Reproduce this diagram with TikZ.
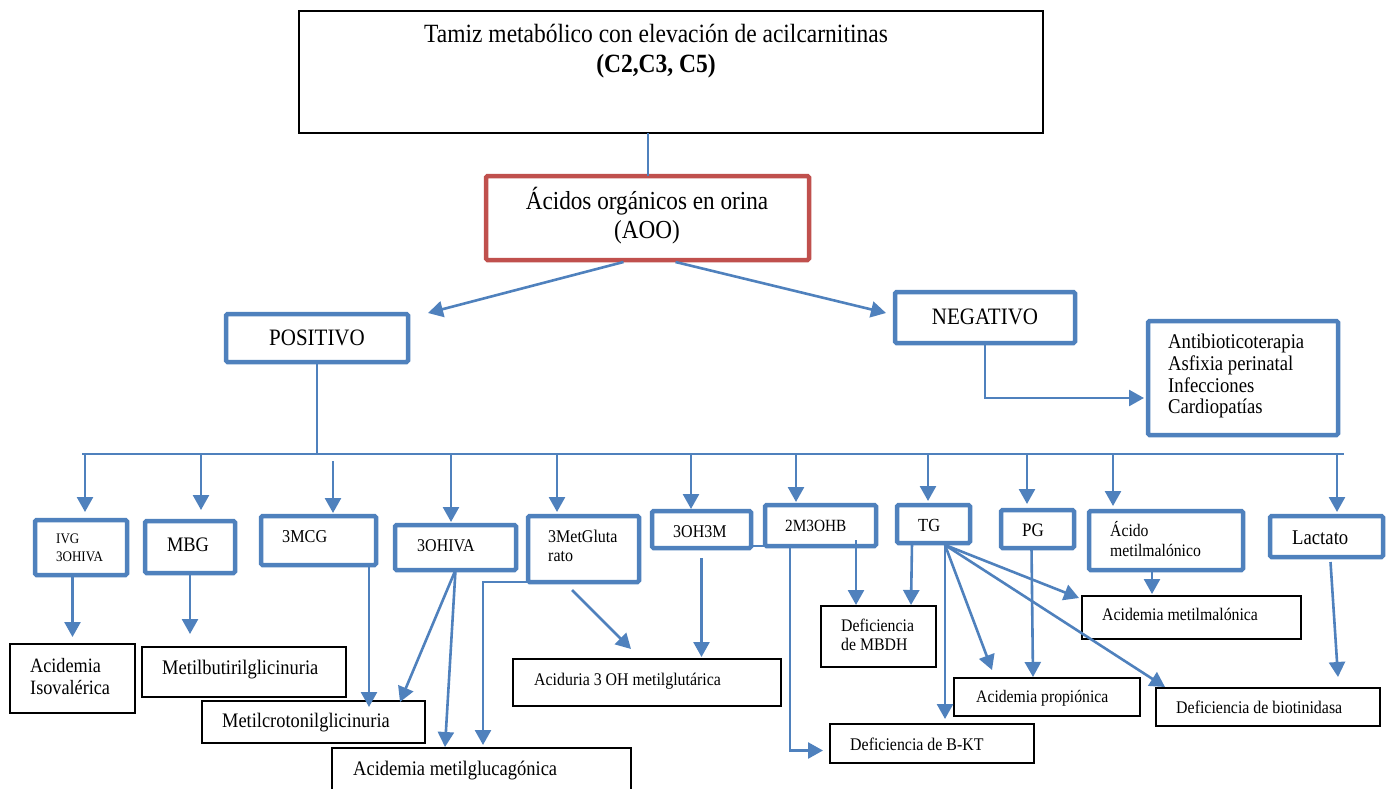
\documentclass[tikz,border=0pt]{standalone}
\usepackage{fontspec}
\setmainfont{Liberation Serif}
\usetikzlibrary{arrows.meta,calc}
\definecolor{bl}{HTML}{4F81BD}
\definecolor{rd}{HTML}{C0504D}
\newcommand\myfs[1]{\fontsize{#1}{#1}\selectfont}
\begin{document}
\begin{tikzpicture}[x=1pt,y=-1pt,
  bbox/.style={draw=bl, line width=4.5pt, rounded corners=1.5pt, fill=white, inner sep=0pt, outer sep=0pt, anchor=north west},
  kbox/.style={draw=black, line width=1.6pt, fill=white, inner sep=0pt, outer sep=0pt, anchor=north west},
  tx/.style={inner sep=0pt, anchor=base west, yscale=1.12},
  tc/.style={inner sep=0pt, anchor=base, yscale=1.12},
  arr/.style={draw=bl, line width=2.6pt, -{Triangle[length=15pt,width=16pt]}},
  ln/.style={draw=bl, line width=2pt},
]
\useasboundingbox (0,0) rectangle (1394,789);
\clip (0,0) rectangle (1394,789);
\fill[white] (0,0) rectangle (1394,789);

% ---- boxes ----
\node[kbox, line width=2pt, minimum width=744pt, minimum height=122pt] (top) at (299,11) {};
\node[bbox, draw=rd, minimum width=323pt, minimum height=84pt] (aoo) at (486,176) {};
\node[bbox, minimum width=182pt, minimum height=48pt] (pos) at (226,314) {};
\node[bbox, minimum width=180pt, minimum height=51pt] (neg) at (895,292) {};
\node[bbox, minimum width=190pt, minimum height=114pt] (anti) at (1148,321) {};
\node[bbox, minimum width=92pt, minimum height=55pt] (ivg) at (35,520) {};
\node[bbox, minimum width=90pt, minimum height=52pt] (mbg) at (145,521) {};
\node[bbox, minimum width=115pt, minimum height=49pt] (mcg) at (261,516) {};
\node[bbox, minimum width=121pt, minimum height=45pt] (ohiva) at (395,525) {};
\node[bbox, minimum width=111pt, minimum height=66pt] (mglut) at (528,516) {};
\node[bbox, minimum width=99pt, minimum height=37pt] (ohm) at (652,511) {};
\node[bbox, minimum width=111pt, minimum height=41pt] (mohb) at (765,505) {};
\node[bbox, minimum width=73pt, minimum height=38pt] (tg) at (897,505) {};
\node[bbox, minimum width=73pt, minimum height=38pt] (pg) at (1001,510) {};
\node[bbox, minimum width=154pt, minimum height=59pt] (acmm) at (1089,511) {};
\node[bbox, minimum width=113pt, minimum height=41pt] (lac) at (1270,516) {};

\node[kbox, minimum width=125pt, minimum height=69pt] (isov) at (10,644) {};
\node[kbox, minimum width=204pt, minimum height=50pt] (mbut) at (142,647) {};
\node[kbox, minimum width=223pt, minimum height=42pt] (mcrot) at (202,701) {};
\node[kbox, minimum width=299pt, minimum height=60pt] (mgluc) at (332,748) {};
\node[kbox, minimum width=268pt, minimum height=47pt] (acid) at (513,659) {};
\node[kbox, minimum width=115pt, minimum height=61pt] (mbdh) at (821,606) {};
\node[kbox, minimum width=204pt, minimum height=39pt] (bkt) at (830,724) {};
\node[kbox, minimum width=186pt, minimum height=38pt] (prop) at (954,678) {};
\node[kbox, minimum width=219pt, minimum height=43pt] (metmal) at (1082,596) {};
\node[kbox, minimum width=224pt, minimum height=38pt] (biot) at (1156,688) {};

% ---- connectors ----
\coordinate (busL) at (82,454);
\coordinate (busR) at (1344,454);
\draw[ln] (busL) -- (busR);
\draw[ln] (aoo.north |- top.south) -- (aoo.north);
\draw[ln] (pos.south) -- (pos.south |- busL);
\draw[arr] ($(aoo.south)+(-24,2)$) -- ($(pos.north east)+(20,-1)$);
\draw[arr] ($(aoo.south)+(28,2)$) -- ($(neg.north west)+(-9,21)$);
\draw[arr] (neg.south) |- ($(anti.west)+(-4,20)$);

\foreach \x/\b/\s in {85/ivg/8pt, 201/mbg/11pt, 451/ohiva/3pt, 557/mglut/4pt, 691/ohm/2pt, 796/mohb/3pt, 928/tg/4pt, 1027/pg/6pt, 1113/acmm/5pt, 1337/lac/4pt}
{
  \coordinate (d\b) at (\x,455);
  \draw[arr, shorten >=\s] (d\b) -- (d\b |- \b.north);
}
\coordinate (dmcg) at (333,461);
\draw[arr, shorten >=3pt] (dmcg) -- (dmcg |- mcg.north);

\draw[arr, shorten >=7pt] (isov.north |- ivg.south) -- (isov.north);
\draw[arr, shorten >=13pt] (mbg.south) -- (mbg.south |- mbut.north);
\coordinate (c1) at ($(mcg.south east)+(-7,0)$);
\draw[arr, shorten >=-6pt] (c1) -- (c1 |- mcrot.north);
\draw[arr] (ohiva.south) -- ($(mcrot.north east)+(-25,1)$);
\draw[arr] (ohiva.south) -- ($(mgluc.north west)+(113,-1)$);
\draw[arr] ($(mglut.south west)+(29,0)$) -| ($(mgluc.north west)+(151,-3)$);
\draw[arr] ($(mglut.south west)+(44,8)$) -- ($(acid.north west)+(118,-10)$);
\coordinate (c2) at ($(ohm.south)+(0,10)$);
\draw[arr, shorten >=2pt] (c2) -- (c2 |- acid.north);
\draw[ln] ($(ohm.south east)+(2,-2)$) -- (mohb.south west);
\draw[arr] ($(mohb.south west)+(25,0)$) |- ($(bkt.west)+(-7,7)$);
\draw[arr] ($(mohb.south east)+(-20,-6)$) -- ($(mbdh.north west)+(35,-1)$);
\draw[arr] ($(tg.south west)+(15,0)$) -- ($(mbdh.north west)+(90,-1)$);
\coordinate (tgo) at ($(tg.south west)+(48,2)$);
\draw[arr, shorten >=5pt] (tgo) -- (tgo |- bkt.north);
\draw[arr] (tgo) -- ($(prop.north west)+(38,-8)$);
\draw[arr] (tgo) -- ($(metmal.north west)+(-3,2)$);
\draw[arr] (tgo) -- ($(biot.north west)+(9,-1)$);
\draw[arr] ($(pg.south)+(-6,0)$) -- ($(prop.north west)+(79,-1)$);
\draw[arr] ($(acmm.south west)+(63,0)$) -- ($(metmal.north west)+(70,-2)$);
\draw[arr] ($(lac.south)+(4,5)$) -- ($(biot.north east)+(-42,-11)$);

% ---- texts ----
\node[tc] (ttop1) at (656,43) {\myfs{23.5}Tamiz metabólico con elevación de acilcarnitinas};
\node[tc] (ttop2) at (656,73) {\myfs{23.5}\bfseries (C2,C3, C5)};
\node[tc] (taoo1) at (647,209) {\myfs{23.2}Ácidos orgánicos en orina};
\node[tc] (taoo2) at (647,238) {\myfs{23.2}(AOO)};
\node[tc] (tpos) at (317,345) {\myfs{21}POSITIVO};
\node[tc] (tneg) at (985,324) {\myfs{21}NEGATIVO};
\node[tx] (tan1) at (1168,348) {\myfs{18.7}Antibioticoterapia};
\node[tx] (tan2) at (1168,370) {\myfs{18.7}Asfixia perinatal};
\node[tx] (tan3) at (1168,392) {\myfs{18.7}Infecciones};
\node[tx] (tan4) at (1168,413) {\myfs{18.7}Cardiopatías};

\node[tx] (tivg1) at (56,543) {\myfs{13}IVG};
\node[tx] (tivg2) at (56,561) {\myfs{13}3OHIVA};
\node[tc] (tmbg) at (188,551) {\myfs{18.4}MBG};
\node[tx] (tmcg) at (282,542) {\myfs{16.2}3MCG};
\node[tx] (tohiva) at (417,551) {\myfs{16}3OHIVA};
\node[tx] (tmglut1) at (548,542) {\myfs{16}3MetGluta};
\node[tx] (tmglut2) at (548,561) {\myfs{16}rato};
\node[tx] (tohm) at (673,537) {\myfs{16}3OH3M};
\node[tx] (tmohb) at (785,531) {\myfs{15.3}2M3OHB};
\node[tx] (ttg) at (918,531) {\myfs{16.5}TG};
\node[tx] (tpg) at (1022,536) {\myfs{17}PG};
\node[tx] (tacmm1) at (1110,536) {\myfs{15.7}Ácido};
\node[tx] (tacmm2) at (1110,556) {\myfs{15.7}metilmalónico};
\node[tx] (tlac) at (1292,544) {\myfs{18.7}Lactato};

\node[tx] (tisov1) at (30,672) {\myfs{18.2}Acidemia};
\node[tx] (tisov2) at (30,694) {\myfs{18.2}Isovalérica};
\node[tx] (tmbut) at (162,674) {\myfs{18.5}Metilbutirilglicinuria};
\node[tx] (tmcrot) at (222,727) {\myfs{18.4}Metilcrotonilglicinuria};
\node[tx] (tmgluc) at (353,775) {\myfs{18.5}Acidemia metilglucagónica};
\node[tx] (tacid) at (534,685) {\myfs{15.9}Aciduria 3 OH metilglutárica};
\node[tx] (tmbdh1) at (841,631) {\myfs{15.8}Deficiencia};
\node[tx] (tmbdh2) at (841,650) {\myfs{15.8}de MBDH};
\node[tx] (tbkt) at (850,750) {\myfs{15.9}Deficiencia de B-KT};
\node[tx] (tprop) at (976,702) {\myfs{15.7}Acidemia propiónica};
\node[tx] (tmetmal) at (1102,620) {\myfs{15.8}Acidemia metilmalónica};
\node[tx] (tbiot) at (1176,713) {\myfs{15.9}Deficiencia de biotinidasa};
\end{tikzpicture}
\end{document}
